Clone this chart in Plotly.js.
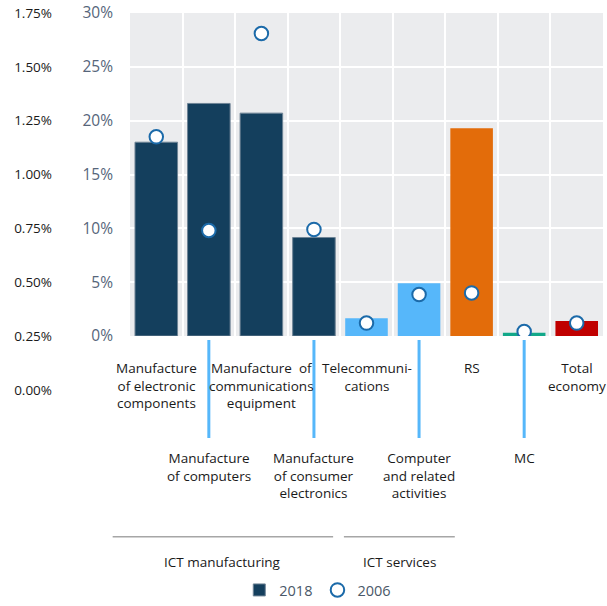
<!DOCTYPE html>
<html>
<head>
<meta charset="utf-8">
<script src="https://cdn.plot.ly/plotly-3.0.1.min.js"></script>
<style>html,body{margin:0;padding:0;background:#fff;}#chart{width:607px;height:606px;}</style>
</head>
<body>
<div id="chart"></div>
<script>
// ---- data ----
const categories = ["Manufacture of electronic components","Manufacture of computers","Manufacture of communications equipment","Manufacture of consumer electronics","Telecommunications","Computer and related activities","RS","MC","Total economy"];
const categoryLabels = ["Manufacture<br>of electronic<br>components","Manufacture<br>of computers","Manufacture  of<br>communications<br>equipment","Manufacture<br>of consumer<br>electronics","Telecommuni-<br>cations","Computer<br>and related<br>activities","RS","MC","Total<br>economy"];
const values2018 = [18.0, 21.6, 20.7, 9.15, 1.65, 4.9, 19.3, 0.3, 1.4];
const values2006 = [18.5, 9.8, 28.1, 9.9, 1.2, 3.85, 4.0, 0.42, 1.2];
const barColors = ["#143f5d","#143f5d","#143f5d","#143f5d","#56b7fa","#56b7fa","#e36c0a","#12a889","#c00000"];
const rightTickVals = [0,5,10,15,20,25,30];
const rightTickText = ["0%","5%","10%","15%","20%","25%","30%"];
const leftTickVals = [0,0.25,0.5,0.75,1.0,1.25,1.5,1.75];
const leftTickText = ["0.00%","0.25%","0.50%","0.75%","1.00%","1.25%","1.50%","1.75%"];
const groupLabels = ["ICT manufacturing","ICT services"];
const groupFirst = [0, 4];
const groupLast = [3, 5];
const seriesNames = ["2018","2006"];

// ---- layout helpers ----
const W = 607, H = 606, mt = 13, mb = 0, ml = 0, mr = 4;
const plotH = H - mt - mb, plotW = W - ml - mr;
const py = Y => (H - mb - Y) / plotH;      // pixel y -> paper fraction
const xDomain = [(130 - ml) / plotW, 1];
const nCat = categories.length;
const catToPaper = c => xDomain[0] + (c + 0.5) / nCat * (xDomain[1] - xDomain[0]); // category index -> paper x
const FONT = "'Open Sans', 'Noto Sans', sans-serif";
const groupPad = [[0.83, 0.365], [0.43, 0.68]];  // bracket overhang (style)

const traces = [
  {type:"bar", x:categories, y:values2018, name:seriesNames[0],
   marker:{color:barColors, line:{color:barColors.map(c => c==="#143f5d" ? "#6f8496" : "rgba(0,0,0,0)"), width:barColors.map(c => c==="#143f5d" ? 1 : 0)}},
   hoverinfo:"skip"},
  {type:"scatter", mode:"markers", x:categories, y:values2006, name:seriesNames[1],
   marker:{symbol:"circle", size:13.5, color:"#ffffff", line:{color:"#1b6aa9", width:2}},
   hoverinfo:"skip"},
  {type:"scatter", mode:"markers", x:[0], y:[0], xaxis:"x2", yaxis:"y2", showlegend:false,
   marker:{opacity:0}, hoverinfo:"skip"}
];

const annotations = [];
categoryLabels.forEach((t, i) => {
  const top = (i % 2 === 0) ? 357 : 447;
  annotations.push({xref:"x", yref:"paper", x:categories[i], y:py(top), yanchor:"top", xanchor:"center",
    text:t, showarrow:false, align:"center", font:{family:FONT, size:13.5, color:"#1a1a1a"}});
});
const shapes = [
  {type:"rect", xref:"x domain", yref:"y domain", x0:0, x1:1, y0:0, y1:1, fillcolor:"#ebecee", line:{width:0}, layer:"below"}
];
categories.forEach((c, i) => {
  if (i % 2 === 1) shapes.push({type:"line", xref:"x", yref:"paper", x0:c, x1:c, y0:py(340), y1:py(438), line:{color:"#56b7fa", width:3}});
});
groupLabels.forEach((g, k) => {
  const x0 = catToPaper(groupFirst[k] - groupPad[k][0]), x1 = catToPaper(groupLast[k] + groupPad[k][1]);
  shapes.push({type:"line", xref:"paper", yref:"paper", x0:x0, x1:x1, y0:py(536.7), y1:py(536.7), line:{color:"#a6a6a6", width:1.5}});
  annotations.push({xref:"paper", yref:"paper", x:(x0 + x1) / 2, y:py(561.5), yanchor:"middle", xanchor:"center",
    text:g, showarrow:false, font:{family:FONT, size:13.5, color:"#1a1a1a"}});
});

const layout = {
  width:W, height:H, margin:{l:ml, r:mr, t:mt, b:mb, pad:0},
  paper_bgcolor:"#ffffff", plot_bgcolor:"rgba(0,0,0,0)",
  font:{family:FONT, size:14, color:"#1a1a1a"},
  bargap:0.19, showlegend:true,
  xaxis:{domain:xDomain, anchor:"y", type:"category", tickson:"boundaries", showticklabels:false, ticks:"",
         showgrid:true, gridcolor:"#ffffff", gridwidth:2, showline:false, zeroline:false, fixedrange:true, range:[-0.5, 8.5]},
  yaxis:{domain:[py(336), 1], anchor:"x", range:[0,30], tickmode:"array", tickvals:rightTickVals, ticktext:rightTickText,
         showgrid:true, gridcolor:"#ffffff", gridwidth:2, zeroline:false, showline:false, ticks:"",
         ticklabelstandoff:16, tickfont:{family:FONT, size:15.5, color:"#56657a"}},
  xaxis2:{domain:xDomain, anchor:"y2", visible:false, range:[-1,1]},
  yaxis2:{domain:[py(390), 1], anchor:"free", position:60/plotW, side:"left", range:[0,1.75], tickmode:"array",
          tickvals:leftTickVals, ticktext:leftTickText, showgrid:false, zeroline:false, showline:false, ticks:"",
          ticklabelstandoff:8, tickfont:{family:FONT, size:13.5, color:"#1a1a1a"}},
  legend:{orientation:"h", x:0.527, xanchor:"center", y:0, yanchor:"bottom", bgcolor:"rgba(0,0,0,0)",
          font:{family:FONT, size:14.5, color:"#4a5868"}, itemwidth:30, traceorder:"normal"},
  annotations:annotations, shapes:shapes
};

Plotly.newPlot("chart", traces, layout, {staticPlot:true, displayModeBar:false});
</script>
</body>
</html>
